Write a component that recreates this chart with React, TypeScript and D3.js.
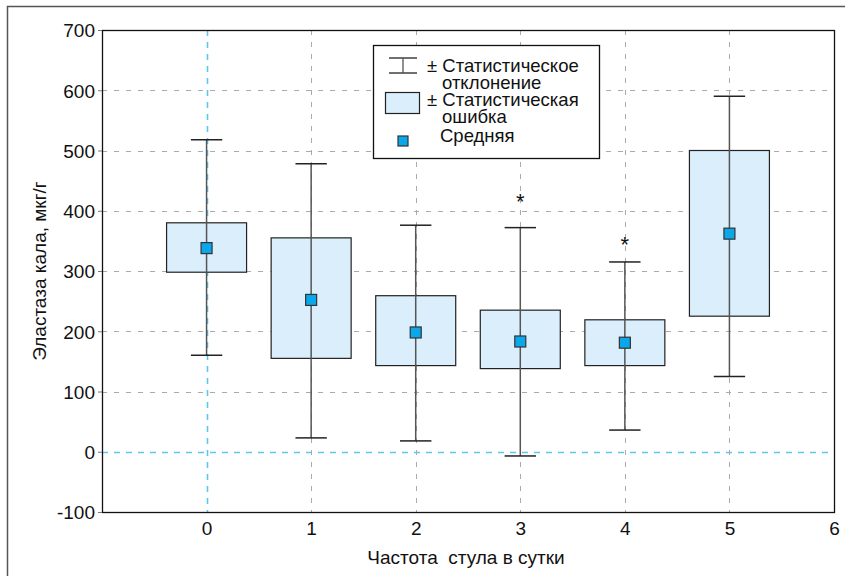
import { useEffect, useRef } from 'react';
import * as d3 from 'd3';

// stool frequency per day
const categories = [0, 1, 2, 3, 4, 5];
const meanValues = [338, 252, 198, 183, 181, 362];
// ± standard error (box)
const seLow = [298, 155, 143, 138, 143, 225];
const seHigh = [380, 355, 259, 235, 219, 500];
// ± standard deviation (whiskers)
const sdLow = [160, 23, 18, -7, 36, 125];
const sdHigh = [518, 478, 376, 372, 315, 590];
// significance markers
const starValues = [null, null, null, 419, 348, null];

const xTicks = [0, 1, 2, 3, 4, 5, 6];
const yTicks = [-100, 0, 100, 200, 300, 400, 500, 600, 700];

const legendLines = ['± Статистическое', 'отклонение', '± Статистическая', 'ошибка', 'Средняя'];

const FONT = '"Liberation Sans", Arial, Helvetica, sans-serif';

const App = () => {
  const svgRef = useRef<SVGSVGElement>(null);
  const width = 845;
  const height = 576;

  useEffect(() => {
    const root = d3.select(svgRef.current);
    root.selectAll('*').remove();

    const margin = { top: 30, right: 11, bottom: 64, left: 102 };
    const innerWidth = width - margin.left - margin.right;
    const innerHeight = height - margin.top - margin.bottom;

    // outer frame (top + left only)
    root.append('path')
      .attr('d', `M7.5,${height} V6.5 H${width}`)
      .attr('fill', 'none')
      .attr('stroke', '#555')
      .attr('stroke-width', 1.5);

    const svg = root.append('g').attr('transform', `translate(${margin.left}, ${margin.top})`);

    const x = d3.scaleLinear().domain([-1, 6]).range([0, innerWidth]);
    const y = d3.scaleLinear().domain([-100, 700]).range([innerHeight, 0]);

    // grid
    svg.append('g')
      .selectAll('line')
      .data(yTicks.filter(t => t > -100 && t < 700))
      .enter()
      .append('line')
      .attr('x1', 0)
      .attr('x2', innerWidth)
      .attr('y1', d => Math.round(y(d)) + 0.5)
      .attr('y2', d => Math.round(y(d)) + 0.5)
      .attr('stroke', d => (d === 0 ? '#5cc6ee' : '#aaa'))
      .attr('stroke-width', d => (d === 0 ? 1.6 : 1))
      .attr('stroke-dasharray', d => (d === 0 ? '6,6' : '5,7'));

    svg.append('g')
      .selectAll('line')
      .data(xTicks.filter(t => t < 6))
      .enter()
      .append('line')
      .attr('y1', 0)
      .attr('y2', innerHeight)
      .attr('x1', d => Math.round(x(d)) + 0.5)
      .attr('x2', d => Math.round(x(d)) + 0.5)
      .attr('stroke', d => (d === 0 ? '#5cc6ee' : '#aaa'))
      .attr('stroke-width', d => (d === 0 ? 1.6 : 1))
      .attr('stroke-dasharray', d => (d === 0 ? '6,6' : '5,7'));

    const boxW = x(0.765) - x(0);
    const capW = x(0.3) - x(0);

    // boxes (standard error)
    svg.selectAll('.se')
      .data(categories)
      .enter()
      .append('rect')
      .attr('class', 'se')
      .attr('x', (d) => x(d) - boxW / 2)
      .attr('width', boxW)
      .attr('y', (d, i) => y(seHigh[i]))
      .attr('height', (d, i) => y(seLow[i]) - y(seHigh[i]))
      .attr('fill', '#dbeefc')
      .attr('stroke', '#222')
      .attr('stroke-width', 1.2);

    // whiskers (standard deviation)
    const wg = svg.append('g').attr('stroke', '#555').attr('stroke-width', 1.5);
    categories.forEach((c, i) => {
      const cx = x(c);
      wg.append('line').attr('x1', cx).attr('x2', cx).attr('y1', y(sdLow[i])).attr('y2', y(sdHigh[i]));
      wg.append('line').attr('x1', cx - capW / 2).attr('x2', cx + capW / 2)
        .attr('y1', y(sdLow[i])).attr('y2', y(sdLow[i])).attr('stroke', '#222');
      wg.append('line').attr('x1', cx - capW / 2).attr('x2', cx + capW / 2)
        .attr('y1', y(sdHigh[i])).attr('y2', y(sdHigh[i])).attr('stroke', '#222');
    });

    // means
    const ms = 11;
    svg.selectAll('.mean')
      .data(categories)
      .enter()
      .append('rect')
      .attr('class', 'mean')
      .attr('x', d => x(d) - ms / 2)
      .attr('y', (d, i) => y(meanValues[i]) - ms / 2)
      .attr('width', ms)
      .attr('height', ms)
      .attr('fill', '#0aa7ea')
      .attr('stroke', '#333')
      .attr('stroke-width', 1.2);

    // stars
    svg.selectAll('.star')
      .data(categories.filter((d, i) => starValues[i] !== null))
      .enter()
      .append('text')
      .attr('class', 'star')
      .attr('x', d => x(d))
      .attr('y', d => y(starValues[categories.indexOf(d)] as number) + 10)
      .attr('text-anchor', 'middle')
      .style('font-family', FONT)
      .style('font-size', '22px')
      .style('fill', '#111')
      .text('*');

    // plot frame
    svg.append('rect')
      .attr('x', 0.5)
      .attr('y', 0.5)
      .attr('width', innerWidth)
      .attr('height', innerHeight)
      .attr('fill', 'none')
      .attr('stroke', '#111')
      .attr('stroke-width', 1.3);

    // axes
    const yAxis = svg.append('g')
      .call(d3.axisLeft(y).tickValues(yTicks).tickSize(4).tickPadding(3).tickFormat(d => String(d)));
    yAxis.select('.domain').remove();
    yAxis.selectAll('line').attr('stroke', '#777');
    yAxis.selectAll('text')
      .style('font-family', FONT)
      .style('font-size', '19px')
      .style('fill', '#111')
      .attr('dy', '0.36em');

    const xAxis = svg.append('g')
      .attr('transform', `translate(0, ${innerHeight})`)
      .call(d3.axisBottom(x).tickValues(xTicks).tickSize(0).tickPadding(10).tickFormat(d => String(d)));
    xAxis.select('.domain').remove();
    xAxis.selectAll('text')
      .style('font-family', FONT)
      .style('font-size', '19px')
      .style('fill', '#111');

    // axis labels
    svg.append('text')
      .attr('x', innerWidth / 2 - 2)
      .attr('y', innerHeight + 52)
      .attr('text-anchor', 'middle')
      .style('font-family', FONT)
      .style('font-size', '19px')
      .style('fill', '#111')
      .style('white-space', 'pre')
      .text('Частота  стула в сутки');

    svg.append('text')
      .attr('transform', `translate(${-56}, ${innerHeight / 2}) rotate(-90)`)
      .attr('text-anchor', 'middle')
      .style('font-family', FONT)
      .style('font-size', '19px')
      .style('fill', '#111')
      .text('Эластаза кала, мкг/г');

    // legend (absolute coords)
    const lg = root.append('g');
    lg.append('rect')
      .attr('x', 373.5).attr('y', 45.5).attr('width', 226).attr('height', 113)
      .attr('fill', '#fff').attr('stroke', '#111').attr('stroke-width', 1.3);
    // error bar symbol
    lg.append('line').attr('x1', 389).attr('x2', 417).attr('y1', 58).attr('y2', 58).attr('stroke', '#222').attr('stroke-width', 1.3);
    lg.append('line').attr('x1', 389).attr('x2', 417).attr('y1', 73).attr('y2', 73).attr('stroke', '#222').attr('stroke-width', 1.3);
    lg.append('line').attr('x1', 403).attr('x2', 403).attr('y1', 58).attr('y2', 73).attr('stroke', '#555').attr('stroke-width', 1.3);
    // box symbol
    lg.append('rect').attr('x', 385.5).attr('y', 92.5).attr('width', 34).attr('height', 21)
      .attr('fill', '#dbeefc').attr('stroke', '#222').attr('stroke-width', 1.2);
    // mean symbol
    lg.append('rect').attr('x', 398).attr('y', 136).attr('width', 10).attr('height', 10)
      .attr('fill', '#0aa7ea').attr('stroke', '#333').attr('stroke-width', 1.2);

    const lineX = [427, 442, 427, 442, 440];
    const lineY = [72, 89, 106, 123, 142];
    lg.selectAll('.lt')
      .data(legendLines)
      .enter()
      .append('text')
      .attr('class', 'lt')
      .attr('x', (d, i) => lineX[i])
      .attr('y', (d, i) => lineY[i])
      .style('font-family', FONT)
      .style('font-size', '18.5px')
      .style('fill', '#111')
      .text(d => d);
  }, []);

  return (
    <svg
      ref={svgRef}
      width={width}
      height={height}
      style={{ position: 'absolute', left: 0, top: 0, background: '#fff' }}
    />
  );
};

export default App;
